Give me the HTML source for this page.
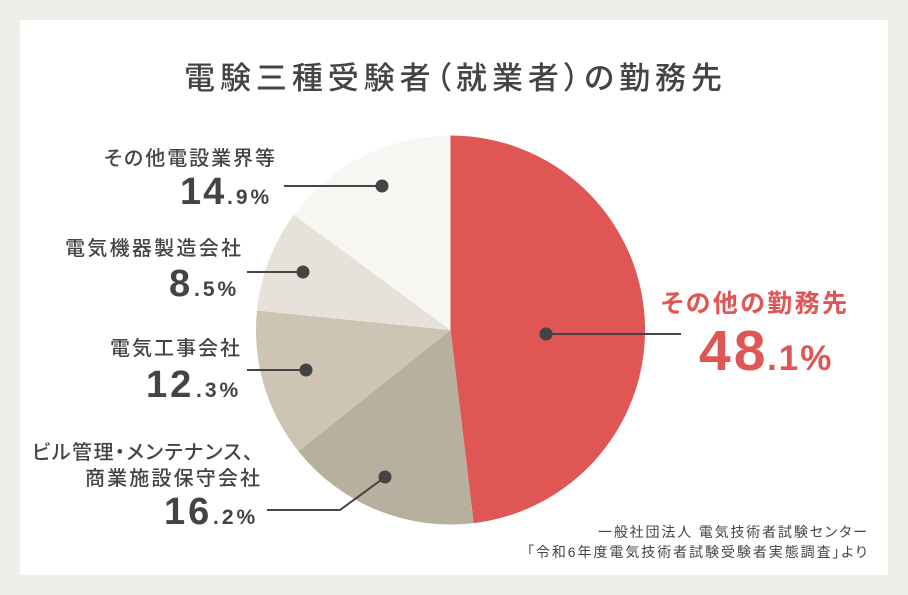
<!DOCTYPE html>
<html lang="ja">
<head>
<meta charset="utf-8">
<style>
  html, body { margin: 0; padding: 0; background: #f0eee9; }
  body { width: 908px; height: 595px; overflow: hidden; }
  svg { display: block; }
  .jp { font-family: "Liberation Sans", "Noto Sans CJK JP", sans-serif; font-feature-settings: "palt" 1; }
  .num { font-family: "Liberation Sans", "Noto Sans CJK JP", sans-serif; font-weight: 700; }
</style>
</head>
<body>
<svg width="908" height="595" viewBox="0 0 908 595" xmlns="http://www.w3.org/2000/svg">
  <rect x="0" y="0" width="908" height="595" fill="#f0eee9"/>
  <rect x="20" y="20" width="868" height="555" fill="#ffffff"/>

  <!-- Title -->
  <text class="jp" x="184" y="89" font-size="31" font-weight="500" fill="#444444" textLength="538" lengthAdjust="spacing">電験三種受験者（就業者）の勤務先</text>

  <!-- Pie -->
  <path d="M450.5,330 L450.5,135.5 A194.5,194.5 0 0 1 473.67,523.12 Z" fill="#e05654"/>
  <path d="M450.5,330 L473.67,523.12 A194.5,194.5 0 0 1 298.31,451.12 Z" fill="#b8b09f"/>
  <path d="M450.5,330 L298.31,451.12 A194.5,194.5 0 0 1 256.98,310.48 Z" fill="#cdc4b4"/>
  <path d="M450.5,330 L256.98,310.48 A194.5,194.5 0 0 1 293.84,214.72 Z" fill="#e6e2d9"/>
  <path d="M450.5,330 L293.84,214.72 A194.5,194.5 0 0 1 450.5,135.5 Z" fill="#f7f6f2"/>

  <!-- Leader lines & dots -->
  <g stroke="#444444" stroke-width="2" fill="none">
    <line x1="284" y1="186" x2="382" y2="186"/>
    <line x1="247" y1="272" x2="303" y2="272"/>
    <line x1="247" y1="370" x2="306" y2="370"/>
    <polyline points="267,510 340,510 385,477"/>
    <line x1="546" y1="334" x2="681" y2="334"/>
  </g>
  <g fill="#444444">
    <circle cx="382" cy="186" r="6.5"/>
    <circle cx="303" cy="272" r="6.5"/>
    <circle cx="306" cy="370" r="6.5"/>
    <circle cx="385" cy="477" r="6.5"/>
    <circle cx="546" cy="334" r="6.5"/>
  </g>

  <!-- Left labels -->
  <g fill="#444444">
    <text class="jp" x="104" y="165" font-size="20" font-weight="500" textLength="171" lengthAdjust="spacing">その他電設業界等</text>
    <text class="num" x="180" y="204" font-size="38" letter-spacing="2">14</text>
    <text class="num" x="227" y="204" font-size="21" letter-spacing="3">.9%</text>

    <text class="jp" x="65" y="255" font-size="20" font-weight="500" textLength="176" lengthAdjust="spacing">電気機器製造会社</text>
    <text class="num" x="169" y="296" font-size="38">8</text>
    <text class="num" x="194" y="296" font-size="21" letter-spacing="3">.5%</text>

    <text class="jp" x="110" y="355" font-size="20" font-weight="500" textLength="130" lengthAdjust="spacing">電気工事会社</text>
    <text class="num" x="146" y="397" font-size="38" letter-spacing="3">12</text>
    <text class="num" x="196" y="397" font-size="21" letter-spacing="3">.3%</text>

    <text class="jp" x="32" y="459" font-size="20" font-weight="500" textLength="221" lengthAdjust="spacing">ビル管理・メンテナンス、</text>
    <text class="jp" x="85" y="485" font-size="20" font-weight="500" textLength="175" lengthAdjust="spacing">商業施設保守会社</text>
    <text class="num" x="164" y="524" font-size="38" letter-spacing="3">16</text>
    <text class="num" x="213" y="524" font-size="21" letter-spacing="3">.2%</text>
  </g>

  <!-- Right label -->
  <g fill="#e05654">
    <text class="jp" x="661" y="312" font-size="25" font-weight="700" textLength="186" lengthAdjust="spacing">その他の勤務先</text>
    <text class="num" x="699" y="370" font-size="57" letter-spacing="3">48</text>
    <text class="num" x="767" y="370" font-size="35" letter-spacing="2">.1%</text>
  </g>

  <!-- Source -->
  <g fill="#444444">
    <text class="jp" x="598" y="537" font-size="14" textLength="269" lengthAdjust="spacing">一般社団法人 電気技術者試験センター</text>
    <text class="jp" x="527" y="557" font-size="14" textLength="340" lengthAdjust="spacing">「令和6年度電気技術者試験受験者実態調査」より</text>
  </g>
</svg>
</body>
</html>
